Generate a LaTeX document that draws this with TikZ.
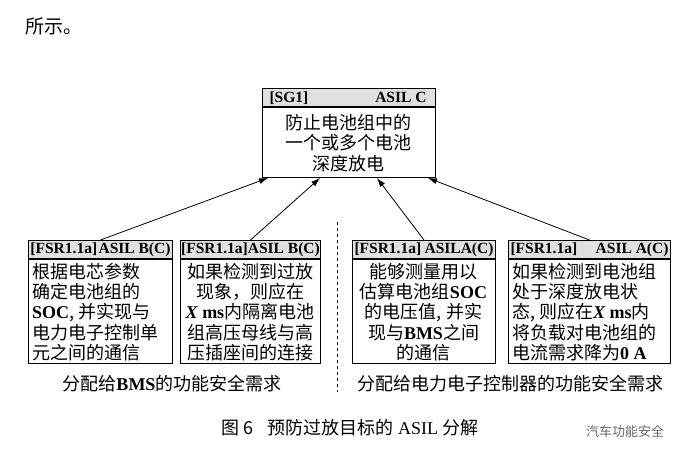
\documentclass[tikz,border=0pt]{standalone}
\usepackage{fontspec}
\usetikzlibrary{arrows.meta}
\setmainfont{Noto Sans CJK SC}
\newfontfamily\lat{Liberation Serif}
\newcommand{\B}[1]{{\lat\bfseries #1}}
\begin{document}
\begin{tikzpicture}[x=1pt,y=-1pt,
  hdr/.style={draw,line width=1pt,fill=black!12,minimum height=19pt,inner sep=0pt,font=\lat\bfseries\fontsize{15.5}{15.5}\selectfont},
  txt/.style={align=center,inner sep=0pt,font=\fontsize{18}{20.3}\selectfont},
  arr/.style={-{Latex[length=9pt,width=6pt]},line width=0.8pt}]
\useasboundingbox (0,0) rectangle (696,462);
\node[anchor=west,font=\fontsize{19}{19}\selectfont] (top) at (22,26) {所示。};
% top box
\node[hdr,minimum width=173pt,anchor=north west] (sgh) at (262,88) {\makebox[163pt]{\hspace{2pt}[SG1]\hfill ASIL C\hspace{4pt}}};
\draw[line width=1pt] (262,107) rectangle (435,178);
\node[txt] (sg) at (348.5,143) {防止电池组中的\\一个或多个电池\\深度放电};
% bottom boxes
\foreach \n/\xa/\xb/\h in {b1/28/172/{ASIL B(C)}, b2/180/320/{ASIL B(C)}, b3/352/495/{ASILA(C)}, b4/508/670/{ASIL A(C)}}{
  \node[hdr,minimum width={\xb-\xa},anchor=north west] (\n h) at (\xa,240) {\makebox[\dimexpr\xb pt-\xa pt-4pt\relax]{[FSR1.1a]\hfill\h}};
  \draw[line width=1pt] (\xa,259) rectangle (\xb,363);
}
\node[txt,align=left,anchor=west] (t1) at (32,312) {根据电芯参数\\确定电池组的\\\B{SOC}, 并实现与\\电力电子控制单\\元之间的通信};
\node[txt] (t2) at (250,312) {如果检测到过放\\现象，则应在\\\B{\itshape X}\B{ ms}内隔离电池\\组高压母线与高\\压插座间的连接};
\node[txt] (t3) at (423.5,312) {能够测量用以\\估算电池组\B{SOC}\\的电压值, 并实\\现与\B{BMS}之间\\的通信};
\node[txt,align=left,anchor=west] (t4) at (512,312) {如果检测到电池组\\处于深度放电状\\态, 则应在\B{\itshape X}\B{ ms}内\\将负载对电池组的\\电流需求降为\B{0 A}};
\draw[arr] (b1h.north) -- (268,178);
\draw[arr] (b2h.north) -- (320,178);
\draw[arr] (b3h.north) -- (377,178);
\draw[arr] (b4h.north) -- (428,178);
\draw[dashed,line width=0.8pt] (337,222) -- (337,392);
\node[font=\fontsize{18}{18}\selectfont] (l1) at (172,384) {分配给\B{BMS}的功能安全需求};
\node[font=\fontsize{18}{18}\selectfont] (l2) at (510,384) {分配给电力电子控制器的功能安全需求};
\node[font=\fontsize{18}{18}\selectfont] (cap) at (350,428) {图 6\hspace{14pt}预防过放目标的 {\lat ASIL} 分解};
\node[font=\fontsize{13}{13}\selectfont,text=black!60] (wm) at (625,432) {汽车功能安全};
\end{tikzpicture}
\end{document}
